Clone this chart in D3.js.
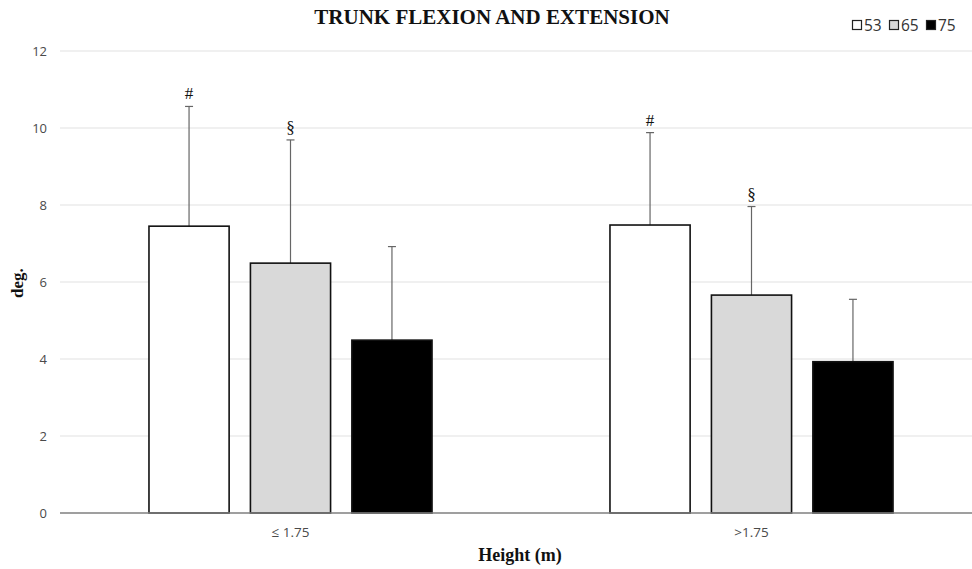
<!DOCTYPE html>
<html>
<head>
<meta charset="utf-8">
<script src="https://cdn.jsdelivr.net/npm/d3@7"></script>
<style>
  body { margin: 0; background: #fff; }
  svg { display: block; }
</style>
</head>
<body>
<div id="chart"></div>
<script>
// data
const groups = ["≤ 1.75", ">1.75"];
const ages = ["53", "65", "75"];
const means = [
  [7.45, 6.49, 4.49],
  [7.48, 5.66, 3.93]
];
const sds = [
  [3.11, 3.20, 2.43],
  [2.40, 2.30, 1.62]
];
const marks = [
  ["#", "§", ""],
  ["#", "§", ""]
];
const yTicks = [0, 2, 4, 6, 8, 10, 12];
const fills = ["#ffffff", "#d9d9d9", "#000000"];

const W = 972, H = 569;
const margin = {top: 51, right: -10, bottom: 56, left: 60};
const width = W - margin.left - margin.right;
const height = H - margin.top - margin.bottom;

const svg = d3.select("#chart").append("svg")
  .attr("width", W)
  .attr("height", H);

const g = svg.append("g").attr("transform", `translate(${margin.left},${margin.top})`);

const x0 = d3.scaleBand()
  .domain(groups)
  .range([0, width])
  .paddingInner(0.386)
  .paddingOuter(0.193);

const x1 = d3.scaleBand()
  .domain(ages)
  .range([0, x0.bandwidth()])
  .paddingInner(0.21)
  .paddingOuter(0);

const y = d3.scaleLinear()
  .domain([0, 12])
  .range([height, 0]);

// gridlines
g.append("g")
  .selectAll("line")
  .data(yTicks.slice(1))
  .enter()
  .append("line")
  .attr("x1", 0)
  .attr("x2", W - margin.left)
  .attr("y1", d => y(d))
  .attr("y2", d => y(d))
  .attr("stroke", "#ebebeb")
  .attr("stroke-width", 1.5);

// y tick labels
g.append("g")
  .selectAll("text")
  .data(yTicks)
  .enter()
  .append("text")
  .attr("x", -13)
  .attr("y", d => y(d))
  .attr("dy", "0.35em")
  .attr("text-anchor", "end")
  .style("font-family", "'Open Sans', sans-serif")
  .style("font-size", "13px")
  .style("fill", "#4a4a4a")
  .text(d => d);

// bars
const rows = [];
groups.forEach((grp, i) => {
  ages.forEach((a, j) => {
    rows.push({grp, age: a, mean: means[i][j], sd: sds[i][j], mark: marks[i][j], fill: fills[j]});
  });
});

const barX = d => x0(d.grp) + x1(d.age);

// error bars (behind the bar outline)
g.selectAll(".err")
  .data(rows)
  .enter()
  .append("line")
  .attr("class", "err")
  .attr("x1", d => barX(d) + x1.bandwidth() / 2)
  .attr("x2", d => barX(d) + x1.bandwidth() / 2)
  .attr("y1", d => y(d.mean))
  .attr("y2", d => y(d.mean + d.sd))
  .attr("stroke", "#666")
  .attr("stroke-width", 1.2);

g.selectAll(".cap")
  .data(rows)
  .enter()
  .append("line")
  .attr("class", "cap")
  .attr("x1", d => barX(d) + x1.bandwidth() / 2 - 4)
  .attr("x2", d => barX(d) + x1.bandwidth() / 2 + 4)
  .attr("y1", d => y(d.mean + d.sd))
  .attr("y2", d => y(d.mean + d.sd))
  .attr("stroke", "#666")
  .attr("stroke-width", 1.2);

g.selectAll(".bar")
  .data(rows)
  .enter()
  .append("rect")
  .attr("class", "bar")
  .attr("x", d => barX(d))
  .attr("y", d => y(d.mean))
  .attr("width", x1.bandwidth())
  .attr("height", d => y(0) - y(d.mean))
  .attr("fill", d => d.fill)
  .attr("stroke", "#111")
  .attr("stroke-width", 1.6);

// significance marks
g.selectAll(".mark")
  .data(rows.filter(d => d.mark))
  .enter()
  .append("text")
  .attr("class", "mark")
  .attr("x", d => barX(d) + x1.bandwidth() / 2)
  .attr("y", d => y(d.mean + d.sd) - 7)
  .attr("text-anchor", "middle")
  .style("font-family", "'Liberation Serif', serif")
  .style("font-size", "17px")
  .style("fill", "#111")
  .text(d => d.mark);

// x axis line
g.append("line")
  .attr("x1", 0)
  .attr("x2", W - margin.left)
  .attr("y1", y(0))
  .attr("y2", y(0))
  .attr("stroke", "#7f7f7f")
  .attr("stroke-width", 1.5);

// x tick labels
g.append("g")
  .selectAll("text")
  .data(groups)
  .enter()
  .append("text")
  .attr("x", d => x0(d) + x0.bandwidth() / 2)
  .attr("y", y(0) + 24)
  .attr("text-anchor", "middle")
  .style("font-family", "'Open Sans', sans-serif")
  .style("font-size", "13.5px")
  .style("fill", "#4a4a4a")
  .text(d => d);

// title
svg.append("text")
  .attr("x", 492)
  .attr("y", 24)
  .attr("text-anchor", "middle")
  .style("font-family", "'Liberation Serif', serif")
  .style("font-weight", "bold")
  .style("font-size", "21px")
  .style("fill", "#111")
  .text("TRUNK FLEXION AND EXTENSION");

// axis titles
svg.append("text")
  .attr("x", 520)
  .attr("y", 561)
  .attr("text-anchor", "middle")
  .style("font-family", "'Liberation Serif', serif")
  .style("font-weight", "bold")
  .style("font-size", "18px")
  .style("fill", "#111")
  .text("Height (m)");

svg.append("text")
  .attr("transform", "rotate(-90)")
  .attr("x", -283)
  .attr("y", 23)
  .attr("text-anchor", "middle")
  .style("font-family", "'Liberation Serif', serif")
  .style("font-weight", "bold")
  .style("font-size", "17px")
  .style("fill", "#111")
  .text("deg.");

// legend
const legend = svg.append("g").attr("transform", "translate(852,20)");
const legX = [0, 37, 74];
ages.forEach((a, j) => {
  legend.append("rect")
    .attr("x", legX[j] + 0.5)
    .attr("y", 0.5)
    .attr("width", 9)
    .attr("height", 9)
    .attr("fill", fills[j])
    .attr("stroke", "#222")
    .attr("stroke-width", 1.2);
  legend.append("text")
    .attr("x", legX[j] + 12)
    .attr("y", 10.5)
    .style("font-family", "'Open Sans', sans-serif")
    .style("font-size", "15.5px")
    .style("fill", "#333")
    .text(a);
});
</script>
</body>
</html>
